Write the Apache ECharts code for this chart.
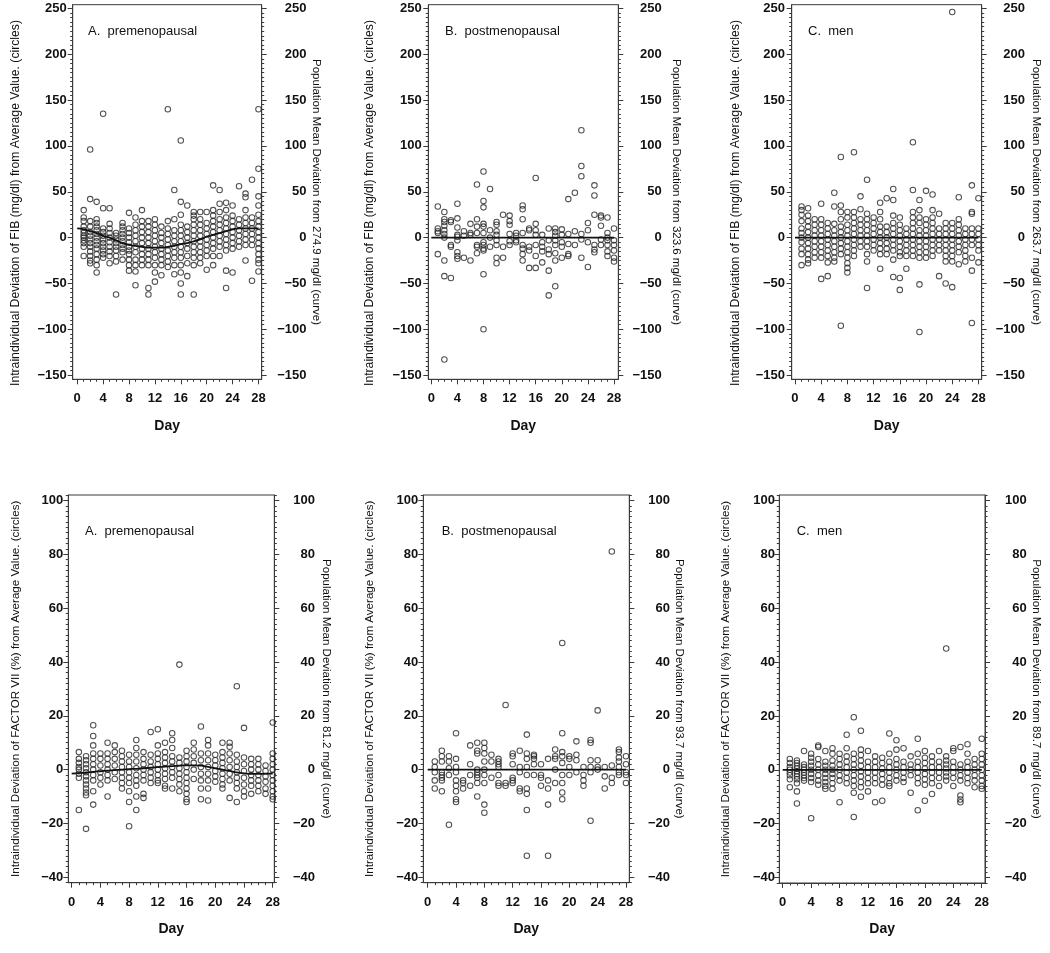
<!DOCTYPE html>
<html><head><meta charset="utf-8">
<script src="https://cdn.jsdelivr.net/npm/echarts@6/dist/echarts.min.js"></script>
<style>html,body{margin:0;padding:0;background:#fff}#c{width:1050px;height:953px}</style>
</head><body><div id="c"></div>
<script>
// ---------- DATA ----------
const dayTicks = [0, 4, 8, 12, 16, 20, 24, 28];
const dayMinorTicks = [0,1,2,3,4,5,6,7,8,9,10,11,12,13,14,15,16,17,18,19,20,21,22,23,24,25,26,27,28];
const curveDays = [0,1,2,3,4,5,6,7,8,9,10,11,12,13,14,15,16,17,18,19,20,21,22,23,24,25,26,27,28];
const fibTicks = [-150, -100, -50, 0, 50, 100, 150, 200, 250];
const f7Ticks = [-40, -20, 0, 20, 40, 60, 80, 100];

// values per day (day 1 .. day 28)
const fibPreValues = [
  [30,22,18,12,8,5,2,0,-3,-6,-10,-20],
  [96,42,18,12,6,2,-2,-6,-10,-15,-20,-25,-28],
  [39,20,16,12,8,4,0,-4,-8,-12,-18,-24,-30,-38],
  [135,32,10,6,2,-2,-6,-10,-14,-18,-22],
  [32,15,10,5,0,-5,-10,-15,-20,-28],
  [5,2,-2,-6,-10,-14,-20,-26,-62],
  [16,12,8,4,0,-4,-8,-12,-16,-24],
  [27,10,5,0,-5,-10,-14,-18,-24,-30,-36],
  [22,14,8,2,-4,-10,-16,-24,-30,-37,-52],
  [30,18,12,6,0,-6,-12,-18,-24,-30],
  [18,12,6,0,-6,-12,-18,-24,-30,-55,-62],
  [20,14,8,2,-4,-10,-16,-22,-30,-38,-48],
  [12,5,0,-6,-12,-18,-24,-30,-41],
  [140,18,10,4,-2,-8,-14,-20,-26,-32],
  [52,20,8,2,-4,-10,-16,-22,-30,-40],
  [106,39,25,14,8,2,-4,-10,-16,-22,-30,-38,-50,-62],
  [35,12,6,0,-6,-12,-20,-28,-42],
  [28,24,20,14,8,2,-4,-10,-16,-22,-30,-62],
  [28,20,14,8,2,-4,-10,-16,-22,-28],
  [28,16,10,4,-2,-8,-14,-20,-35],
  [57,30,24,18,12,6,0,-6,-12,-20,-30],
  [52,37,28,20,14,8,2,-4,-10,-20],
  [38,30,22,16,10,4,-2,-8,-14,-36,-55],
  [35,24,18,12,6,0,-6,-12,-38],
  [56,20,14,8,2,-4,-10],
  [48,44,30,22,16,10,4,-2,-8,-25],
  [63,22,16,10,4,-2,-8,-47],
  [140,75,45,35,25,18,12,6,0,-6,-12,-18,-24,-28,-37]
];
const fibPreCurve = [10,9,7,5,2,0,-3,-6,-8,-9,-10,-11,-11,-11,-10,-9,-7,-6,-4,-2,1,3,5,7,9,10,10,10,10];

const fibPostValues = [
  [34,10,7,5,-18],
  [28,20,17,13,8,4,0,-25,-42,-133],
  [19,17,-8,-10,-44],
  [37,21,11,3,1,-3,-16,-20,-23],
  [7,2,-22],
  [15,5,3,-25],
  [58,20,12,5,-8,-10,-17],
  [72,40,33,15,12,5,-5,-8,-12,-14,-40,-100],
  [53,8,0,-10],
  [17,14,7,3,-3,-8,-22,-28],
  [25,-10,-22],
  [24,18,14,4,-4,-8],
  [5,2,-3,-5],
  [35,31,20,5,-8,-12,-18,-25],
  [10,8,-10,-14,-33],
  [65,15,8,3,-8,-20,-33],
  [3,-5,-10,-15,-27],
  [10,-3,-13,-18,-36,-63],
  [10,6,2,-3,-8,-17,-25,-53],
  [9,3,-5,-10,-22],
  [42,4,-7,-18,-20],
  [49,7,-8],
  [117,78,67,4,-2,-22],
  [16,8,-5,-32],
  [57,46,25,-8,-13,-16],
  [24,22,13,-2,-8],
  [22,5,0,-3,-8,-15,-20],
  [10,-3,-8,-14,-22,-26]
];
const fibPostCurve = [0,0,0,0,0,0,0,0,0,0,0,0,0,0,0,0,0,0,0,0,0,0,0,0,0,0,0,0,0];

const fibMenValues = [
  [34,30,25,18,10,5,0,-5,-12,-18,-30],
  [32,24,18,12,6,0,-6,-12,-18,-24,-28],
  [20,14,8,2,-4,-10,-16,-22],
  [37,20,14,8,2,-4,-10,-16,-22,-45],
  [16,10,4,-2,-8,-14,-20,-27,-42],
  [49,34,15,8,2,-4,-10,-16,-22,-26],
  [88,35,28,20,12,6,0,-6,-12,-18,-96],
  [28,22,14,8,2,-4,-10,-16,-22,-28,-33,-38],
  [93,28,22,16,10,4,-2,-8,-14,-20],
  [45,31,20,14,8,2,-4,-10],
  [63,26,20,14,8,2,-4,-10,-18,-26,-55],
  [22,16,10,4,-2,-8,-14],
  [38,28,20,12,6,0,-6,-12,-18,-34],
  [43,12,6,0,-6,-12,-18],
  [53,41,24,16,10,4,-2,-8,-14,-24,-43],
  [22,14,8,2,-4,-10,-16,-20,-44,-57],
  [10,4,-2,-8,-14,-20,-34],
  [104,52,28,22,16,10,4,-2,-8,-14,-20],
  [41,30,22,16,8,2,-4,-10,-16,-22,-51,-103],
  [51,20,14,8,2,-4,-10,-16,-22],
  [47,30,22,16,10,4,-2,-8,-14,-20],
  [26,10,4,-2,-8,-14,-42],
  [16,10,4,-2,-8,-14,-20,-26,-50],
  [246,16,10,4,-2,-8,-14,-20,-26,-54],
  [44,20,14,8,2,-4,-10,-16,-29],
  [10,4,-2,-8,-14,-20,-26],
  [57,28,26,10,4,-2,-8,-22,-36,-93],
  [43,10,4,-2,-8,-14,-27]
];
const fibMenCurve = [0,0,0,0,0,0,0,0,0,0,0,0,0,0,0,0,0,0,0,0,0,0,0,0,0,0,0,0,0];

const f7PreValues = [
  [6.5,4,2.5,1,0,-1.5,-3,-15],
  [5,3.5,2,0.5,-1,-2.5,-4,-5.5,-7,-8.5,-9.5,-22],
  [16.5,12.5,9,6,4,2,0,-2,-4,-8,-13],
  [6,4,1.5,-1,-3,-5.5],
  [10,6,4,2,0,-2,-4,-10],
  [9,6.5,4,1.5,-1,-3.5],
  [7,5,3,1,-1,-3,-5,-7],
  [5.5,3,1,-1,-3,-5,-8,-12,-21],
  [11,8,5.5,3,0.5,-2,-4,-6,-10,-15],
  [6.5,4,2,0,-2,-4,-9,-10.5],
  [14,5.5,3,1,-1,-3,-5],
  [15,9,6,4,2,0,-2,-4,-5],
  [10,6.5,4.5,2.5,0.5,-1.5,-3.5,-6,-7],
  [13.5,11,8,5,3,1,-1,-3,-7],
  [39,4.5,2.5,0.5,-1.5,-3.5,-5.5,-8],
  [7,5,3,1,-1,-3,-5,-7,-9,-11,-12],
  [10,7.5,5,2.5,0,-3.5],
  [16,6,3.5,1,-1.5,-4,-7,-11],
  [11,9,6,3.5,1,-1.5,-4,-7,-11.5],
  [5.5,3.5,1.5,-0.5,-2.5,-4.5],
  [10,6.5,4.5,2.5,0.5,-1.5,-3.5,-5.5,-7],
  [10,8.5,6,3.5,1,-1.5,-4,-10.5],
  [31,5.5,3,1,-1,-3,-5,-7,-12],
  [15.5,4.5,2,-0.5,-3,-5.5,-8,-10],
  [4,2,0,-2,-4,-6,-9],
  [4,2,0,-2,-4,-6,-8],
  [1.5,-0.5,-2.5,-4.5,-7,-9],
  [17.5,6,4,2,0,-2,-4,-6,-8,-10,-11]
];
const f7PreCurve = [-1.5,-1.3,-1.1,-0.8,-0.6,-0.4,-0.2,0,0.2,0.3,0.5,0.7,0.9,1.1,1.3,1.5,1.6,1.6,1.5,1.0,0.5,0,-0.5,-1.0,-1.4,-1.6,-1.6,-1.5,-1.5];

const f7PostValues = [
  [3,1,-1,-4,-7],
  [7,5,3,-1,-2,-3,-4,-8],
  [5,3,0.5,-2,-20.5],
  [13.5,4,1,-1,-4,-6,-8,-11,-12],
  [-4,-5,-7],
  [9,2,-2,-6],
  [10,7,6,0,-1,-2,-3,-5,-10],
  [10,8,6,3,0,-2,-5,-13,-16],
  [5.5,3,-3],
  [4,3,2,1,-2,-5,-6],
  [24,-5,-6],
  [6,5,2,-3,-4,-5],
  [7,1,-1,-7,-8],
  [13,6,4,1,-2,-7,-9,-15,-32],
  [5.5,5,4,2,-2],
  [2,-2,-3,-6],
  [4,-4,-7,-13,-32],
  [7.5,5,4,0,-5],
  [47,13.5,6.5,5,2.5,-2,-5,-8.5,-11],
  [5,4,1,-2],
  [10.5,5.5,3.5,-1],
  [1,-2,-4,-6],
  [11,10,3.5,1,-1,-19],
  [22,3.5,1,0],
  [1,-2.5,-7],
  [81,1.5,-3,-5],
  [7.5,6.5,4.5,3,1,-1,-2],
  [5,2,-1,-2,-5]
];
const f7PostCurve = [0,0,0,0,0,0,0,0,0,0,0,0,0,0,0,0,0,0,0,0,0,0,0,0,0,0,0,0,0];

const f7MenValues = [
  [4,2.5,1,0,-1,-2,-3.5,-6.5],
  [3.5,2.5,1.5,0.5,-0.5,-1.5,-2.5,-3.5,-5,-8,-12.5],
  [7,2,1,0,-1,-2,-3,-4],
  [6,4.5,3,1.5,0,-1.5,-3,-4.5,-18],
  [9,8.5,4,2,0,-2,-4,-5.5],
  [7,3,1.5,0,-1.5,-3,-4.5,-6,-7],
  [8,6,3.5,1.5,0,-1.5,-3,-5,-7],
  [6,4,2,0,-2,-4,-12],
  [13,8,5,3,1,-1,-3,-5],
  [19.5,6,4,2,0,-2,-4,-6,-8.5,-17.5],
  [14.5,7.5,5.5,3.5,1.5,-0.5,-2.5,-4.5,-6.5,-10],
  [7,3,1,-1,-3,-5,-8],
  [5,3,1,-1,-3,-5,-12],
  [4.5,2.5,0.5,-1.5,-3.5,-5.5,-11.5],
  [13.5,6,3,1,-1,-3,-5,-6],
  [11,7.5,4,2,0,-2,-4],
  [8,3,1,-1,-3,-4.5],
  [5,2,0,-2,-8.5],
  [11.5,6,3,1,-1,-3,-5,-15],
  [7,4.5,2.5,0.5,-1.5,-3.5,-5.5,-11.5],
  [5,3,1,-1,-3,-5,-9],
  [7,3,1,-1,-3,-6],
  [45,5,3.5,2,0.5,-1,-2.5,-4],
  [8,7,3,1,-1,-3,-6],
  [8.5,2,0,-2,-4,-9.5,-11,-12],
  [9.5,6,3,1,-1,-3,-5],
  [4,2,0,-2,-4,-6.5],
  [11.5,6,4,2,0,-2,-4,-6,-7]
];
const f7MenCurve = [0,0,0,0,0,0,0,0,0,0,0,0,0,0,0,0,0,0,0,0,0,0,0,0,0,0,0,0,0];

const fibLeftName = 'Intraindividual Deviation of FIB (mg/dl) from Average Value. (circles)';
const f7LeftName = 'Intraindividual Deviation of FACTOR VII (%) from Average Value. (circles)';

// ---------- LAYOUT ----------
const FONT = '"Liberation Sans", Arial, Helvetica, sans-serif';
const INK = '#111';
const AX = '#3a3a3a';

const panels = [
  {values: fibPreValues, curve: fibPreCurve, label: 'A.  premenopausal', leftName: fibLeftName,
   rightName: 'Population Mean Deviation from 274.9 mg/dl (curve)', ticks: fibTicks, minorStep: 5,
   left: 72.7, top: 4.7, w: 189, h: 374.6, xmin: -0.7, xmax: 28.5, ymin: -154.5, ymax: 254,
   lm: 6, rm: 44.8, lg: 51, rg: 48, lfs: 12.2, lpad: [0, 22, 0, 0], tl: 88, tt: 25},
  {values: fibPostValues, curve: fibPostCurve, label: 'B.  postmenopausal', leftName: fibLeftName,
   rightName: 'Population Mean Deviation from 323.6 mg/dl (curve)', ticks: fibTicks, minorStep: 5,
   left: 428.3, top: 4.7, w: 190, h: 374.6, xmin: -0.46, xmax: 28.66, ymin: -154.5, ymax: 254,
   lm: 6.6, rm: 43.4, lg: 53, rg: 52, lfs: 12.2, lpad: [0, 22, 0, 0], tl: 445, tt: 25},
  {values: fibMenValues, curve: fibMenCurve, label: 'C.  men', leftName: fibLeftName,
   rightName: 'Population Mean Deviation from 263.7 mg/dl (curve)', ticks: fibTicks, minorStep: 5,
   left: 791.7, top: 4.7, w: 190, h: 374.6, xmin: -0.5, xmax: 28.5, ymin: -154.5, ymax: 254,
   lm: 6.7, rm: 43.3, lg: 50, rg: 48, lfs: 12.2, lpad: [0, 22, 0, 0], tl: 808, tt: 25},
  {values: f7PreValues, curve: f7PreCurve, label: 'A.  premenopausal', leftName: f7LeftName,
   rightName: 'Population Mean Deviation from 81.2 mg/dl (curve)', ticks: f7Ticks, minorStep: 2,
   left: 68.3, top: 495, w: 206, h: 387.7, xmin: -0.47, xmax: 28.22, ymin: -42, ymax: 102,
   lm: 5, rm: 40.7, lg: 46.6, rg: 46, lfs: 11.6, lpad: [0, 0, 0, 0], tl: 85, tt: 525},
  {values: f7PostValues, curve: f7PostCurve, label: 'B.  postmenopausal', leftName: f7LeftName,
   rightName: 'Population Mean Deviation from 93.7 mg/dl (curve)', ticks: f7Ticks, minorStep: 2,
   left: 423.3, top: 495, w: 206, h: 387.7, xmin: -0.62, xmax: 28.47, ymin: -42, ymax: 102,
   lm: 5, rm: 40.7, lg: 48, rg: 44, lfs: 11.6, lpad: [0, 0, 0, 0], tl: 441.7, tt: 525},
  {values: f7MenValues, curve: f7MenCurve, label: 'C.  men', leftName: f7LeftName,
   rightName: 'Population Mean Deviation from 89.7 mg/dl (curve)', ticks: f7Ticks, minorStep: 2,
   left: 779.3, top: 495, w: 205.7, h: 388, xmin: -0.48, xmax: 28.46, ymin: -42, ymax: 102,
   lm: 4.3, rm: 41.7, lg: 47.6, rg: 45, lfs: 11.6, lpad: [0, 0, 0, 0], tl: 796.7, tt: 525}
];

const fmt = v => (v < 0 ? '\u2212' + Math.abs(v) : String(v));

const option = {
  animation: false,
  backgroundColor: '#fff',
  title: [], grid: [], xAxis: [], yAxis: [], series: []
};

panels.forEach((p, i) => {
  option.title.push({text: p.label, left: p.tl, top: p.tt, padding: 0,
    textStyle: {fontFamily: FONT, fontSize: 13, fontWeight: 'normal', color: INK}});
  option.grid.push({left: p.left, top: p.top, width: p.w, height: p.h, show: true,
    borderColor: AX, borderWidth: 1, backgroundColor: 'transparent', outerBoundsMode: 'none', containLabel: false});

  const minor = [];
  const lo = Math.ceil(p.ymin / p.minorStep) * p.minorStep;
  for (let v = lo; v <= p.ymax; v += p.minorStep) minor.push(v);

  const xi = option.xAxis.length;
  option.xAxis.push({type: 'value', gridIndex: i, position: 'bottom', min: p.xmin, max: p.xmax,
    axisLine: {show: true, onZero: false, lineStyle: {color: AX, width: 1}},
    axisTick: {show: true, inside: false, length: 5, customValues: dayTicks, lineStyle: {color: AX}},
    axisLabel: {customValues: dayTicks, margin: 13, fontFamily: FONT, fontSize: 13, fontWeight: 'bold', color: INK},
    splitLine: {show: false},
    name: 'Day', nameLocation: 'middle', nameGap: 39.5, nameMoveOverlap: false,
    nameTextStyle: {fontFamily: FONT, fontSize: 14, fontWeight: 'bold', color: INK}});
  option.xAxis.push({type: 'value', gridIndex: i, position: 'bottom', min: p.xmin, max: p.xmax,
    axisLine: {show: false, onZero: false},
    axisTick: {show: true, length: 2.5, customValues: dayMinorTicks, lineStyle: {color: AX}},
    axisLabel: {show: false}, splitLine: {show: false}});

  const yi = option.yAxis.length;
  option.yAxis.push({type: 'value', gridIndex: i, position: 'left', min: p.ymin, max: p.ymax,
    axisLine: {show: true, onZero: false, lineStyle: {color: AX, width: 1}},
    axisTick: {show: true, length: 5, customValues: p.ticks, lineStyle: {color: AX}},
    axisLabel: {customValues: p.ticks, formatter: fmt, margin: p.lm, fontFamily: FONT, fontSize: 13, fontWeight: 'bold', color: INK},
    splitLine: {show: false},
    name: p.leftName, nameLocation: 'middle', nameGap: p.lg, nameMoveOverlap: false,
    nameTextStyle: {fontFamily: FONT, fontSize: p.lfs, color: INK, padding: p.lpad}});
  option.yAxis.push({type: 'value', gridIndex: i, position: 'left', min: p.ymin, max: p.ymax,
    axisLine: {show: false, onZero: false},
    axisTick: {show: true, length: 2.5, customValues: minor, lineStyle: {color: AX}},
    axisLabel: {show: false}, splitLine: {show: false}});
  option.yAxis.push({type: 'value', gridIndex: i, position: 'right', min: p.ymin, max: p.ymax,
    axisLine: {show: true, onZero: false, lineStyle: {color: AX, width: 1}},
    axisTick: {show: true, length: 5, customValues: p.ticks, lineStyle: {color: AX}},
    axisLabel: {customValues: p.ticks, formatter: fmt, margin: p.rm, align: 'right', fontFamily: FONT, fontSize: 13, fontWeight: 'bold', color: INK},
    splitLine: {show: false},
    name: p.rightName, nameLocation: 'middle', nameGap: p.rg, nameRotate: -90, nameMoveOverlap: false,
    nameTextStyle: {fontFamily: FONT, fontSize: 11.5, color: INK}});
  option.yAxis.push({type: 'value', gridIndex: i, position: 'right', min: p.ymin, max: p.ymax,
    axisLine: {show: false, onZero: false},
    axisTick: {show: true, length: 2.5, customValues: minor, lineStyle: {color: AX}},
    axisLabel: {show: false}, splitLine: {show: false}});

  const pts = [];
  p.values.forEach((arr, k) => arr.forEach(v => pts.push([k + 1, v])));
  option.series.push({type: 'scatter', xAxisIndex: xi, yAxisIndex: yi, data: pts,
    symbol: 'circle', symbolSize: 5.5, silent: true,
    itemStyle: {color: 'rgba(255,255,255,0)', borderColor: '#262626', borderWidth: 1.05}, z: 2});
  option.series.push({type: 'line', xAxisIndex: xi, yAxisIndex: yi,
    data: curveDays.map((d, k) => [d, p.curve[k]]), showSymbol: false, smooth: true, silent: true,
    lineStyle: {color: '#111', width: 1.8}, z: 3});
});

const chart = echarts.init(document.getElementById('c'), null, {renderer: 'canvas'});
chart.setOption(option);
</script></body></html>
